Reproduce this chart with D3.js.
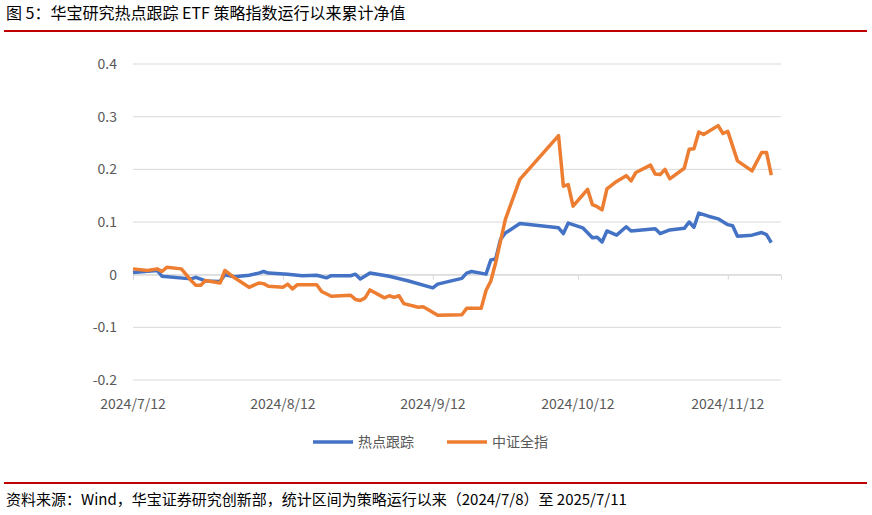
<!DOCTYPE html><html><head><meta charset="utf-8"><script src="https://cdn.jsdelivr.net/npm/d3@7"></script>
<style>body{margin:0;background:#fff}text{font-family:"Noto Sans CJK SC","Noto Sans",sans-serif}</style></head><body><svg id="c" width="872" height="515"></svg>
<script>
const seriesNames=["热点跟踪","中证全指"];
const yTicks=[-0.2,-0.1,0,0.1,0.2,0.3,0.4];
const xTickDays=[0,31,62,92,123];
const xTickLabels=["2024/7/12","2024/8/12","2024/9/12","2024/10/12","2024/11/12"];
// [days since 2024/7/12, value]
const hot=[[0,0.004],[5,0.008],[6,-0.003],[12,-0.008],[13,-0.005],[15,-0.012],[18,-0.013],[19,0.0],[21,-0.004],[24,-0.001],[26,0.003],[27,0.006],[28,0.003],[32,0.001],[35,-0.002],[38,-0.001],[40,-0.006],[41,-0.002],[45,-0.002],[46,0.001],[47,-0.008],[49,0.003],[53,-0.003],[57,-0.012],[62,-0.025],[63,-0.018],[68,-0.007],[69,0.003],[70,0.006],[73,0.001],[74,0.028],[75,0.030],[76,0.067],[77,0.079],[80,0.097],[88,0.089],[89,0.078],[90,0.098],[93,0.089],[95,0.070],[96,0.071],[97,0.062],[98,0.083],[100,0.075],[102,0.091],[103,0.083],[108,0.087],[109,0.078],[111,0.085],[114,0.088],[115,0.100],[116,0.090],[117,0.117],[119,0.111],[121,0.106],[123,0.095],[124,0.093],[125,0.073],[128,0.075],[130,0.080],[131,0.076],[132,0.061]];
const csi=[[0,0.011],[3,0.008],[5,0.011],[6,0.006],[7,0.014],[10,0.011],[12,-0.011],[13,-0.020],[14,-0.020],[15,-0.011],[18,-0.016],[19,0.008],[21,-0.006],[24,-0.024],[26,-0.016],[27,-0.017],[28,-0.022],[31,-0.024],[32,-0.018],[33,-0.027],[34,-0.019],[38,-0.019],[39,-0.032],[41,-0.041],[45,-0.039],[46,-0.047],[47,-0.049],[48,-0.044],[49,-0.029],[52,-0.044],[53,-0.040],[54,-0.043],[55,-0.040],[56,-0.055],[59,-0.062],[60,-0.061],[61,-0.066],[63,-0.077],[68,-0.076],[69,-0.064],[72,-0.064],[73,-0.030],[74,-0.012],[75,0.023],[77,0.105],[80,0.181],[88,0.264],[89,0.168],[90,0.171],[91,0.130],[94,0.162],[95,0.133],[96,0.129],[97,0.123],[98,0.163],[100,0.177],[102,0.188],[103,0.178],[104,0.194],[107,0.208],[108,0.191],[109,0.190],[110,0.200],[111,0.182],[114,0.202],[115,0.238],[116,0.239],[117,0.271],[118,0.266],[121,0.283],[122,0.268],[123,0.272],[125,0.216],[128,0.197],[130,0.232],[131,0.232],[132,0.189]];
const colors=["#4472C4","#ED7D31"];
const svg=d3.select("#c");
svg.append("text").attr("x",6).attr("y",19).attr("font-size",16).attr("fill","#000").text("图 5：华宝研究热点跟踪 ETF 策略指数运行以来累计净值");
svg.append("line").attr("x1",4).attr("x2",867).attr("y1",31).attr("y2",31).attr("stroke","#c00000").attr("stroke-width",2);
svg.append("line").attr("x1",4).attr("x2",867).attr("y1",483).attr("y2",483).attr("stroke","#c00000").attr("stroke-width",2);
svg.append("text").attr("x",6).attr("y",505).attr("font-size",15).attr("fill","#000").text("资料来源：Wind，华宝证券研究创新部，统计区间为策略运行以来（2024/7/8）至 2025/7/11");
const x=d3.scaleLinear().domain([0,134]).range([133,781]);
const y=d3.scaleLinear().domain([-0.2,0.4]).range([380,64]);
const g=svg.append("g");
g.selectAll(".grid").data(yTicks).enter().append("line").attr("x1",133).attr("x2",781).attr("y1",d=>y(d)).attr("y2",d=>y(d)).attr("stroke","#d9d9d9").attr("stroke-width",1);
g.selectAll(".yl").data(yTicks).enter().append("text").attr("x",117).attr("y",d=>y(d)+5).attr("text-anchor","end").attr("font-size",14).attr("fill","#595959").text(d=>d===0?"0":d3.format(".1f")(d).replace("−","-"));
const xa=g.append("g").attr("transform",`translate(0,${y(0)})`).call(d3.axisBottom(x).tickValues(xTickDays).tickSize(5).tickFormat(""));
xa.select(".domain").attr("stroke","#d9d9d9");xa.selectAll(".tick line").attr("stroke","#d9d9d9");
g.selectAll(".xl").data(xTickDays).enter().append("text").attr("x",d=>x(d)).attr("y",409).attr("text-anchor","middle").attr("font-size",14).attr("fill","#595959").text((d,i)=>xTickLabels[i]);
const line=d3.line().x(d=>x(d[0])).y(d=>y(d[1]));
g.append("path").datum(hot).attr("d",line).attr("fill","none").attr("stroke",colors[0]).attr("stroke-width",3.5).attr("stroke-linejoin","round");
g.append("path").datum(csi).attr("d",line).attr("fill","none").attr("stroke",colors[1]).attr("stroke-width",3.5).attr("stroke-linejoin","round");
const lx=[313,447];
seriesNames.forEach((n,i)=>{
 svg.append("line").attr("x1",lx[i]).attr("x2",lx[i]+40).attr("y1",442).attr("y2",442).attr("stroke",colors[i]).attr("stroke-width",3.5);
 svg.append("text").attr("x",lx[i]+45).attr("y",447).attr("font-size",14).attr("fill","#595959").text(n);
});
</script></body></html>
